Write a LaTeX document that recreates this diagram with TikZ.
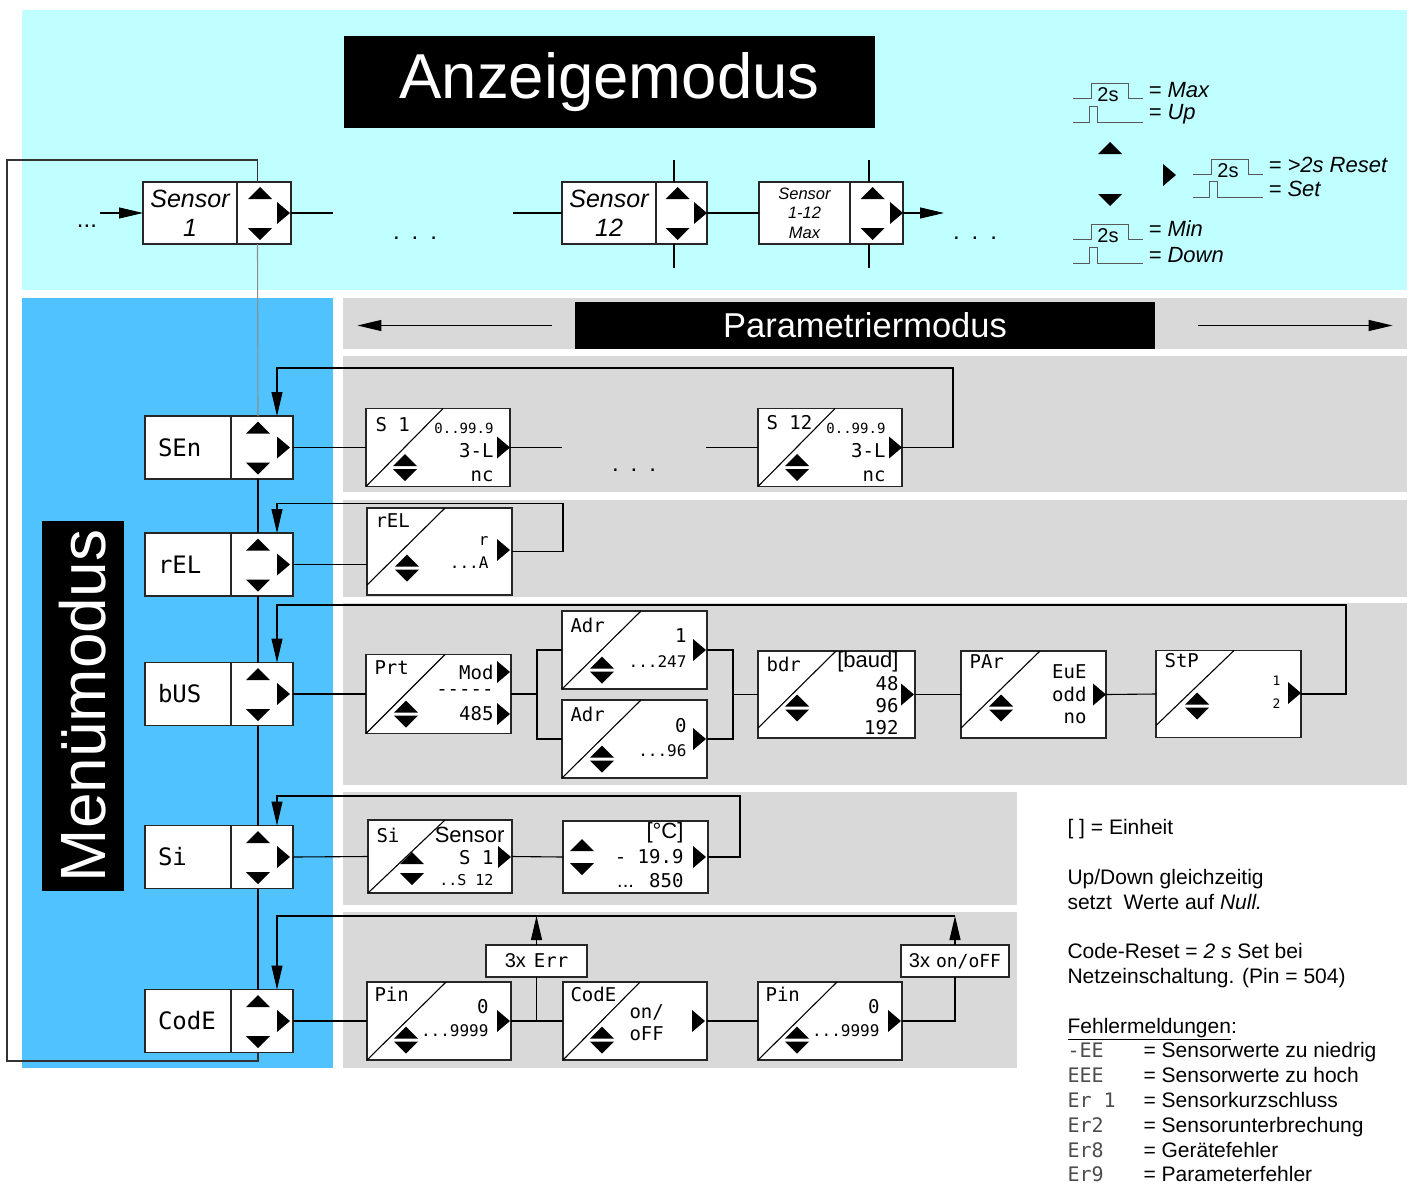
\documentclass[tikz,border=0pt]{standalone}
\usepackage{fontspec}
\setmainfont{Liberation Sans}
\newfontfamily\segfont{DejaVu Sans Mono}
\usetikzlibrary{arrows.meta,positioning}
\definecolor{anzcyan}{RGB}{192,255,255}
\definecolor{menublue}{RGB}{80,195,255}
\definecolor{bandgray}{RGB}{217,217,217}
\newcommand\setfs[1]{\fontsize{#1}{#1}\selectfont}
\begin{document}
\begin{tikzpicture}[x=1pt,y=-1pt,line width=1.1pt,
  >={Triangle[length=24pt,width=11pt]},
  box/.style={draw=black!85,line width=1.3pt,fill=white,outer sep=0pt,inner sep=0pt},
  mtext/.style={box,minimum height=63pt,text width=60pt,inner xsep=13pt,align=left,font=\segfont\setfs{24}},
  mbtn/.style={box,minimum width=62pt,minimum height=63pt},
  stext/.style={box,minimum width=94pt,minimum height=62pt,align=center,font=\itshape\fontsize{25}{29}\selectfont},
  pbox/.style={box,minimum width=145pt,minimum height=78pt},
  plab/.style={anchor=west,inner sep=0pt,font=\segfont\setfs{19}},
  pval/.style={anchor=east,inner sep=0pt,font=\segfont\setfs{19}},
  pvsm/.style={anchor=east,inner sep=0pt,font=\segfont\setfs{16}},
  ptxt/.style={anchor=east,inner sep=0pt,font=\setfs{22}},
  lgnd/.style={anchor=west,inner sep=0pt,font=\itshape\setfs{22}},
  dots/.style={inner sep=0pt,font=\setfs{24}},
  pulse/.style={black!65,line width=1pt},
  pics/tup/.style={code={\fill (-12,6) -- (12,6) -- (0,-6) -- cycle;}},
  pics/tdn/.style={code={\fill (-12,-6) -- (12,-6) -- (0,6) -- cycle;}},
  pics/trt/.style={code={\fill (-6,-11) -- (-6,11) -- (7,0) -- cycle;}},
  pics/tud/.style={code={\fill (-12,-1.5) -- (12,-1.5) -- (0,-13.5) -- cycle;
                         \fill (-12,1.5) -- (12,1.5) -- (0,13.5) -- cycle;}},
  pics/keys/.style={code={\pic at (-4,-20) {tup}; \pic at (-4,21) {tdn}; \pic at (#1,0) {trt};}},
  pics/lpulse/.style={code={\draw[pulse] (0,0) -- (18,0) -- (18,-15) -- (55,-15) -- (55,0) -- (70,0);
                            \node[inner sep=0pt,font=\setfs{20}] (-t) at (35,-3) {2s};}},
  pics/spulse/.style={code={\draw[pulse] (0,0) -- (16,0) -- (16,-16) -- (24,-16) -- (24,0) -- (70,0);}}]
\useasboundingbox (0,0) rectangle (1412,1186);
% backgrounds
\fill[anzcyan] (22,10) rectangle (1407,290);
\fill[menublue] (22,298) rectangle (333,1068);
\fill[bandgray] (343,298) rectangle (1407,349);
\fill[bandgray] (343,356) rectangle (1407,492);
\fill[bandgray] (343,500) rectangle (1407,597);
\fill[bandgray] (343,603) rectangle (1407,785);
\fill[bandgray] (343,792) rectangle (1017,905);
\fill[bandgray] (343,912) rectangle (1017,1068);
% headings
\node[fill=black,text=white,minimum width=531pt,minimum height=92pt,inner sep=0pt,font=\setfs{63.5}] (anzhead) at (609.5,82) {Anzeigemodus};
\node[fill=black,text=white,minimum width=580pt,minimum height=47pt,inner sep=0pt,font=\setfs{34.5}] (parhead) at (865,325.5) {Parametriermodus};
\draw[->] ([xshift=-22pt]parhead.west) -- ++(-195,0);
\draw[->] ([xshift=42pt]parhead.east) -- ++(195,0);
\node[fill=black,text=white,rotate=90,minimum width=370pt,minimum height=82pt,inner sep=0pt,font=\setfs{64}] (menuhead) at (83,706) {Menümodus};

% Anzeigemodus row
\node[stext] (s1t) at (190,213) {Sensor\\1};
\node[mbtn,minimum width=54pt,minimum height=62pt,right=0pt of s1t] (s1b) {};
\pic at (s1b.center) {keys=19};
\node[stext] (s12t) at (609,213) {Sensor\\12};
\node[mbtn,minimum width=51pt,minimum height=62pt,right=0pt of s12t] (s12b) {};
\pic at (s12b.center) {keys=18.5};
\node[stext,minimum width=91pt,font=\itshape\fontsize{16.5}{19.5}\selectfont] (smt) at (804.5,213) {Sensor\\1-12\\Max};
\node[mbtn,minimum width=53pt,minimum height=62pt,right=0pt of smt] (smb) {};
\pic at (smb.center) {keys=19.5};
\draw[->] ([xshift=-43pt]s1t.west) -- (s1t.west);
\node[dots] (dots0) at (87,226) {...};
\draw (s1b.east) -- ++(42,0);
\node[dots] (dots1) at (415,238) {.\hspace{12pt}.\hspace{12pt}.};
\draw (s12t.west) -- ++(-49,0);
\draw ([xshift=-7.5pt]s12b.north) -- ++(0,-22);
\draw ([xshift=-7.5pt]s12b.south) -- ++(0,24);
\draw (s12b.east) -- (smt.west);
\draw ([xshift=-7.5pt]smb.north) -- ++(0,-22);
\draw ([xshift=-7.5pt]smb.south) -- ++(0,24);
\draw[->] (smb.east) -- ++(41,0);
\node[dots] (dots2) at (975,238) {.\hspace{12pt}.\hspace{12pt}.};

% legend
\pic (lmax) at (1073,98) {lpulse};
\node[lgnd] (lgmax) at (1148,90) {= Max};
\pic (lup) at (1073,122) {spulse};
\node[lgnd] (lgup) at (1148,114) {= Up};
\pic at (1110,148) {tup};
\pic at (1110,200) {tdn};
\pic at (1169,175) {trt};
\pic (lres) at (1193,174) {lpulse};
\node[lgnd] (lgres) at (1268,165) {= >2s Reset};
\pic (lset) at (1193,197) {spulse};
\node[lgnd] (lgset) at (1268,189) {= Set};
\pic (lmin) at (1073,239) {lpulse};
\node[lgnd] (lgmin) at (1148,229) {= Min};
\pic (ldn) at (1073,263) {spulse};
\node[lgnd] (lgdn) at (1148,255) {= Down};

% Menuemodus column
\node[mtext] (sent) at (188,447.5) {SEn};
\node[mbtn,right=0pt of sent] (senb) {};
\node[mtext] (relt) at (188,564.5) {rEL};
\node[mbtn,right=0pt of relt] (relb) {};
\node[mtext] (bust) at (188,694) {bUS};
\node[mbtn,right=0pt of bust] (busb) {};
\node[mtext] (sit) at (188,857) {Si};
\node[mbtn,right=0pt of sit] (sib) {};
\node[mtext] (codet) at (188,1021) {CodE};
\node[mbtn,right=0pt of codet] (codeb) {};
\foreach \b in {senb,relb,busb,sib,codeb} \pic at (\b.center) {keys=21};
\draw[black!45] ([xshift=-6.5pt]s1b.south) -- ([xshift=-4pt]senb.north);
\foreach \a/\b in {senb/relb,relb/busb,busb/sib,sib/codeb}
  \draw ([xshift=-4pt]\a.south) -- ([xshift=-4pt]\b.north);
\draw[black!80] ([xshift=-6.5pt]s1b.north) -- ++(0,-22) -| (7,1061) -| ([xshift=-4pt]codeb.south);

% SEn row
\node[pbox,minimum width=144pt] (ps1) at (438,447.5) {};
\draw (ps1.south west) -- ([xshift=77pt]ps1.north west);
\node[plab] (ps1l) at (375,425) {S 1};
\node[pvsm,font=\segfont\setfs{14}] (ps1a) at (494,428) {0..99.9};
\node[pval] (ps1b) at (494,451) {3-L};
\node[pval] (ps1c) at (494,476) {nc};
\pic at (405,467.5) {tud};
\pic at (503,447.5) {trt};
\node[pbox,minimum width=144pt] (ps12) at (830,447.5) {};
\draw (ps12.south west) -- ([xshift=77pt]ps12.north west);
\node[plab] (ps12l) at (766,423) {S 12};
\node[pvsm,font=\segfont\setfs{14}] (ps12a) at (886,428) {0..99.9};
\node[pval] (ps12b) at (886,451) {3-L};
\node[pval] (ps12c) at (886,476) {nc};
\pic at (797,467.5) {tud};
\pic at (895,447.5) {trt};
\draw (senb.east) -- (ps1.west);
\draw (ps1.east) -- ++(52,0);
\draw (ps12.west) -- ++(-52,0);
\node[dots] (dots3) at (634,470) {.\hspace{12pt}.\hspace{12pt}.};
\draw[->] (ps12.east) -- ++(51,0) -- ++(0,-79.5) -| ([xshift=15pt]senb.north);

% rEL row
\node[pbox,minimum height=87pt] (prel) at (439.5,551.5) {};
\draw ([yshift=10pt]prel.south west) -- ([xshift=78pt]prel.north west);
\node[plab] (prell) at (375,521) {rEL};
\node[pvsm] (prela) at (489,541) {r};
\node[pvsm] (prelb) at (489,563) {...A};
\pic at (407,568) {tud};
\pic at (503,550) {trt};
\draw (relb.east) -- (relb.east -| prel.west);
\draw[->] (prel.east) -- ++(51,0) -- ++(0,-48) -| ([xshift=15pt]relb.north);

% bUS row
\node[pbox,minimum height=79pt] (pprt) at (438.5,694) {};
\draw (pprt.south west) -- ([xshift=79pt]pprt.north west);
\node[plab] (pprtl) at (374,668) {Prt};
\node[pval] (pprta) at (494,672) {Mod};
\node[pval] (pprtb) at (494,693) {-----};
\node[pval] (pprtc) at (494,714) {485};
\pic at (406,714) {tud};
\pic at (503,672) {trt};
\pic at (503,714) {trt};
\node[pbox] (padr1) at (634.5,650) {};
\draw (padr1.south west) -- ([xshift=79pt]padr1.north west);
\node[plab] (padr1l) at (570,625) {Adr};
\node[pval] (padr1a) at (687,636) {1};
\node[pvsm] (padr1b) at (687,662) {...247};
\pic at (602,670) {tud};
\pic at (699,650) {trt};
\node[pbox] (padr2) at (634.5,739) {};
\draw (padr2.south west) -- ([xshift=79pt]padr2.north west);
\node[plab] (padr2l) at (570,714) {Adr};
\node[pval] (padr2a) at (687,726) {0};
\node[pvsm] (padr2b) at (687,751) {...96};
\pic at (602,759) {tud};
\pic at (699,739) {trt};
\node[pbox,minimum width=157pt,minimum height=87pt] (pbdr) at (836.5,694.5) {};
\draw ([yshift=10pt]pbdr.south west) -- ([xshift=78pt]pbdr.north west);
\node[plab] (pbdrl) at (766,664) {bdr};
\node[ptxt] (pbdra) at (899,662) {[baud]};
\node[pval] (pbdrb) at (899,684) {48};
\node[pval] (pbdrc) at (899,706) {96};
\node[pval] (pbdrd) at (899,728) {192};
\pic at (797,708) {tud};
\pic at (907,694.5) {trt};
\node[pbox,minimum height=87pt] (ppar) at (1033.5,694.5) {};
\draw ([yshift=10pt]ppar.south west) -- ([xshift=79pt]ppar.north west);
\node[plab] (pparl) at (969,662) {PAr};
\node[pval] (ppara) at (1087,672) {EuE};
\node[pval] (pparb) at (1087,694) {odd};
\node[pval] (pparc) at (1087,718) {no};
\pic at (1001,708) {tud};
\pic at (1099,694.5) {trt};
\node[pbox,minimum height=87pt] (pstp) at (1228.5,694) {};
\draw ([yshift=12pt]pstp.south west) -- ([xshift=78pt]pstp.north west);
\node[plab] (pstpl) at (1164,661) {StP};
\node[pvsm,font=\segfont\setfs{13}] (pstpa) at (1281,681) {1};
\node[pvsm,font=\segfont\setfs{13}] (pstpb) at (1281,704) {2};
\pic at (1197,706) {tud};
\pic at (1294,693) {trt};
\draw (busb.east) -- (pprt.west);
\draw (pprt.east) -- ++(26,0);
\draw (padr1.west) -- ++(-25,0) |- (padr2.west);
\draw (padr1.east) -- ++(26,0) |- (padr2.east);
\draw (pbdr.west) -- ++(-25,0);
\draw (pbdr.east) -- (ppar.west);
\draw (ppar.east) -- (pstp.west);
\draw[->] (pstp.east) -- ++(45,0) -- ++(0,-89) -| ([xshift=15pt]busb.north);

% Si row
\node[pbox,minimum width=144pt,minimum height=73pt] (psi) at (440,856.5) {};
\draw (psi.south west) -- ([xshift=77pt]psi.north west);
\node[plab] (psil) at (376,835) {Si};
\node[ptxt] (psia) at (505,835) {Sensor};
\node[pval] (psib) at (494,858) {S 1};
\node[pvsm,font=\segfont\setfs{15}] (psic) at (494,880) {..S 12};
\pic at (412,858) {tup};
\pic at (412,879) {tdn};
\pic at (504,857) {trt};
\node[pbox,minimum height=72pt] (ptmp) at (635.5,857) {};
\node[ptxt] (ptmpa) at (684,833) {[°C]};
\node[pval] (ptmpb) at (684,857) {- 19.9};
\node[pval] (ptmpc) at (684,881) {{\rmfamily\setfs{20}...} 850};
\pic at (582,845) {tup};
\pic at (582,869) {tdn};
\pic at (699,857) {trt};
\draw (sib.east) -- (psi.west);
\draw (psi.east) -- (ptmp.west);
\draw[->] (ptmp.east) -- ++(32,0) -- ++(0,-61) -| ([xshift=15pt]sib.north);

% CodE row
\node[pbox,minimum width=144pt] (ppin1) at (439,1021) {};
\draw (ppin1.south west) -- ([xshift=79pt]ppin1.north west);
\node[plab] (ppin1l) at (374,994) {Pin};
\node[pval] (ppin1a) at (489,1007) {0};
\node[pvsm] (ppin1b) at (489,1031) {...9999};
\pic at (406,1040) {tud};
\pic at (503,1021) {trt};
\node[pbox,minimum width=144pt] (pcode) at (635,1021) {};
\draw (pcode.south west) -- ([xshift=77pt]pcode.north west);
\node[plab] (pcodel) at (570,994) {CodE};
\node[plab] (pcodea) at (629,1012) {on/};
\node[plab] (pcodeb) at (629,1034) {oFF};
\pic at (602,1040) {tud};
\pic at (698,1021) {trt};
\node[pbox,minimum width=144pt] (ppin2) at (830,1021) {};
\draw (ppin2.south west) -- ([xshift=79pt]ppin2.north west);
\node[plab] (ppin2l) at (765,994) {Pin};
\node[pval] (ppin2a) at (880,1007) {0};
\node[pvsm] (ppin2b) at (880,1031) {...9999};
\pic at (797,1040) {tud};
\pic at (894,1021) {trt};
\node[box,minimum width=101pt,minimum height=32pt,font=\setfs{20}] (err) at (536.5,961) {3x\hspace{8pt}{\segfont\setfs{19}Err}};
\node[box,minimum width=108pt,minimum height=32pt,font=\setfs{20}] (onoff) at (955,961) {3x\hspace{6pt}{\segfont\setfs{18}on/oFF}};
\draw (codeb.east) -- (ppin1.west);
\draw (ppin1.east) -- (pcode.west);
\draw (err.south) -- (err.south |- ppin1.east);
\draw[->] (err.north) -- ++(0,-29);
\draw (pcode.east) -- (ppin2.west);
\draw (ppin2.east) -| (onoff.south);
\draw[->] (onoff.north) -- ++(0,-29);
\draw[->] ([yshift=29pt]onoff.north) -| ([xshift=15pt]codeb.north);

% notes
\node[anchor=north west,inner sep=0pt,align=left,font=\fontsize{21}{24.8}\selectfont] (notes) at (1067,819) {%
[ ] = Einheit\\[24.8pt]
Up/Down gleichzeitig\\
setzt\ \ Werte auf \textit{Null.}\\[24.8pt]
Code-Reset = \textit{2 s} Set bei\\
Netzeinschaltung. (Pin = 504)\\[24.8pt]
\underline{Fehlermeldungen}:\\
\makebox[76pt][l]{\color{black!70}\segfont\setfs{20}-EE}= Sensorwerte zu niedrig\\
\makebox[76pt][l]{\color{black!70}\segfont\setfs{20}EEE}= Sensorwerte zu hoch\\
\makebox[76pt][l]{\color{black!70}\segfont\setfs{20}Er 1}= Sensorkurzschluss\\
\makebox[76pt][l]{\color{black!70}\segfont\setfs{20}Er2}= Sensorunterbrechung\\
\makebox[76pt][l]{\color{black!70}\segfont\setfs{20}Er8}= Gerätefehler\\
\makebox[76pt][l]{\color{black!70}\segfont\setfs{20}Er9}= Parameterfehler};
\end{tikzpicture}
\end{document}
